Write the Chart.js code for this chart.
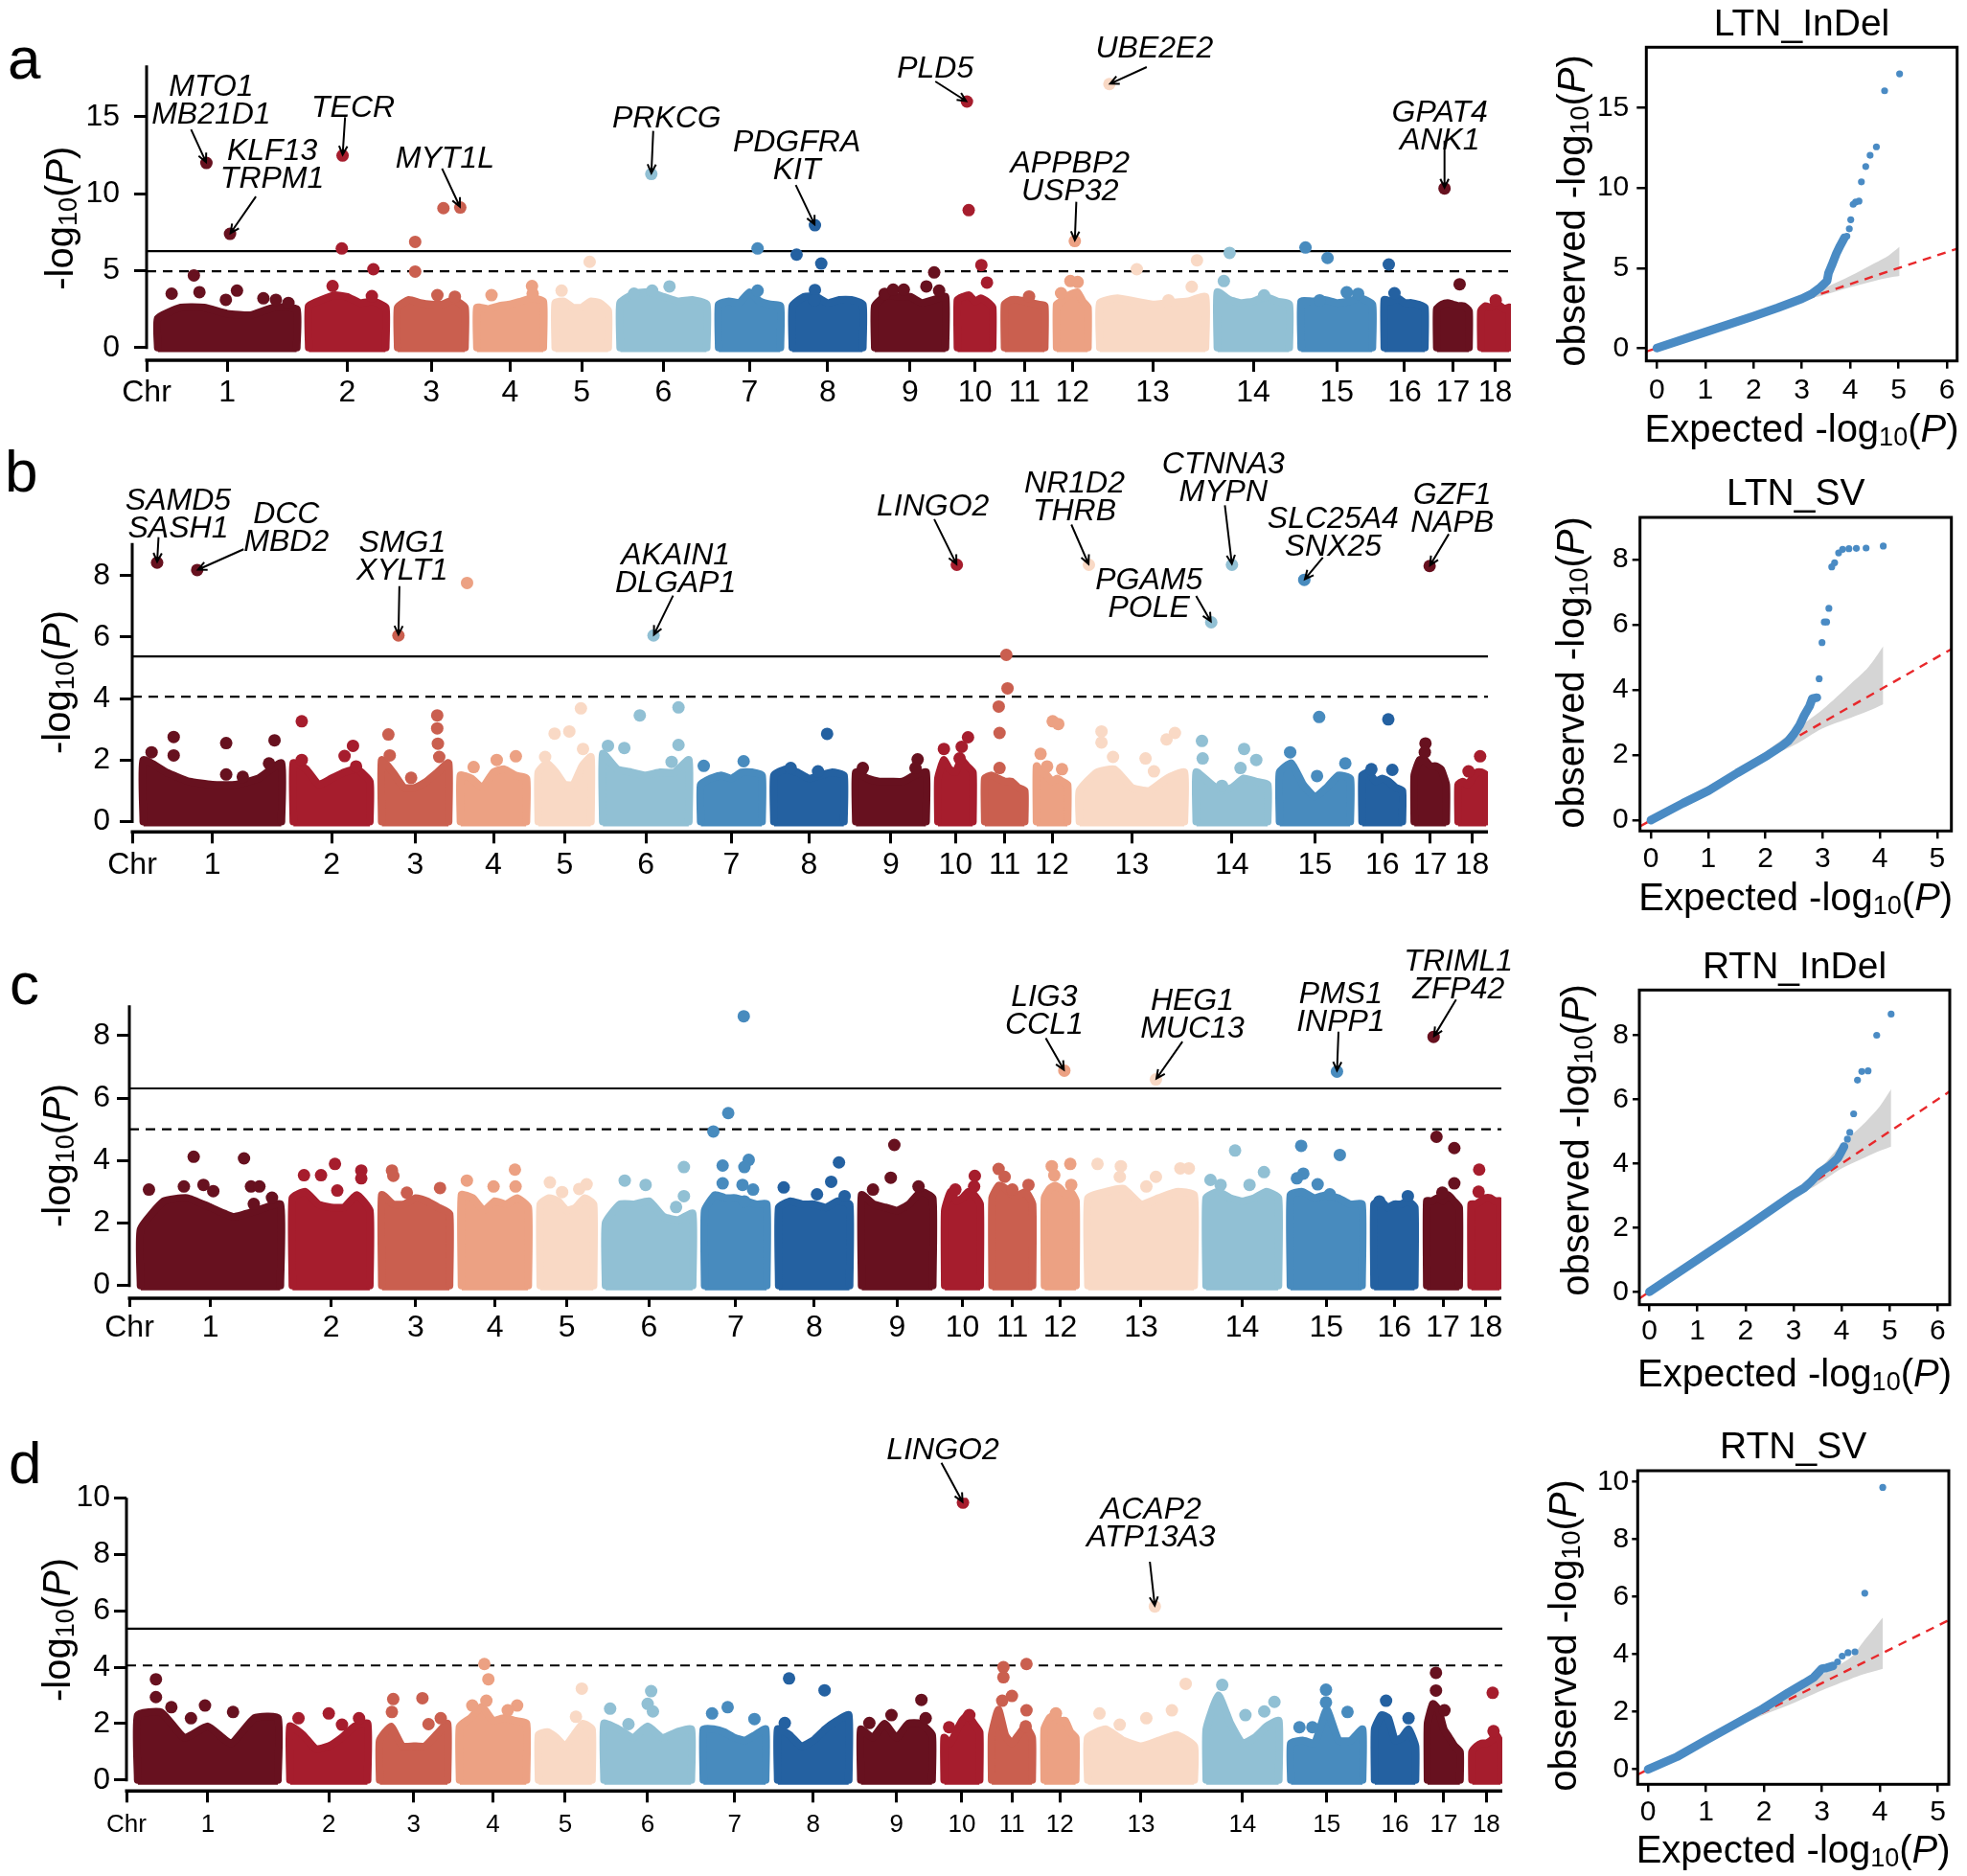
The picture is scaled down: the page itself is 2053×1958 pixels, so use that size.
<!DOCTYPE html>
<html>
<head>
<meta charset="utf-8">
<script src="https://cdn.jsdelivr.net/npm/chart.js@4.4.1/dist/chart.umd.min.js"></script>
<style>
  html, body { margin: 0; padding: 0; background: #fff; }
  body { width: 2053px; height: 1958px; position: relative; overflow: hidden; }
  canvas { position: absolute; }
</style>
</head>
<body>
<canvas id="ma"></canvas><canvas id="mb"></canvas><canvas id="mc"></canvas><canvas id="md"></canvas>
<canvas id="qa"></canvas><canvas id="qb"></canvas><canvas id="qc"></canvas><canvas id="qd"></canvas>
<script>
// ---- chromosomes (pig autosomes, Mb) ----
const chrNames = ['1','2','3','4','5','6','7','8','9','10','11','12','13','14','15','16','17','18'];
const chrLengthMb = [274.3, 151.9, 132.8, 130.9, 104.5, 170.8, 121.8, 139.0, 139.5, 69.4, 79.2, 61.6, 208.3, 141.8, 140.4, 79.9, 63.5, 56.0];

// ---- a: LTN_InDel ----
const aThresholds = [6.26, 4.96];
const aYTicks = [0, 5, 10, 15];
const aCloud = [
  [1.9,2.6,2.6,2.2,2.1,2.6,2.5],[2.7,3.1,3.4,3.3,2.9,3.0,2.6],[2.6,3.1,2.9,2.8,2.8,3.1,2.6],
  [2.6,2.5,2.7,2.8,3.0,3.2,3.0],[2.9,3.0,2.6,2.6,3.0,2.9,2.4],[2.9,3.5,3.6,3.3,3.0,3.1,2.8],
  [2.8,3.0,2.9,3.6,3.0,2.8,2.7],[2.7,3.3,3.3,2.9,3.1,3.1,2.8],[2.7,3.4,3.3,3.3,2.9,3.1,3.3],
  [3.1,3.3,3.4,3.0,3.2,3.0,2.6],[2.8,3.1,3.1,3.0,2.9,2.8,2.7],[2.8,3.0,3.3,3.5,3.6,3.0,2.6],
  [2.9,3.2,3.0,2.8,2.9,3.0,3.3],[3.6,3.1,2.9,3.0,3.3,3.0,2.8],[3.0,3.0,3.1,2.9,3.0,3.2,2.8],
  [3.1,3.0,3.2,2.9,2.9,2.8,2.6],[2.5,2.8,2.9,2.8,2.7,2.7,2.4],[2.4,2.7,2.6,2.8,2.7,2.5,2.6]
];
const aHits = [
  [1,0.26,4.69],[1,0.30,3.6],[1,0.49,3.1],[1,0.57,3.7],[1,0.10,3.5],[1,0.76,3.2],[1,0.85,3.1],[1,0.94,2.9],
  [2,0.43,6.44],[2,0.84,5.09],[2,0.31,4.0],[2,0.82,3.34],
  [3,0.26,6.87],[3,0.26,4.94],[3,0.68,9.06],[3,0.59,3.4],[3,0.85,3.3],
  [4,0.22,3.4],[4,0.83,4.0],[4,0.84,3.5],
  [5,0.65,5.57],[5,0.12,3.7],
  [6,0.57,3.97],[6,0.37,3.7],[6,0.16,3.5],
  [7,0.63,6.44],[7,0.63,3.7],
  [8,0.06,6.04],[8,0.41,5.46],[8,0.32,3.74],[8,0.31,3.07],
  [9,0.84,4.88],[9,0.73,3.97],[9,0.91,3.7],[9,0.14,3.49],[9,0.26,3.76],[9,0.41,3.76],
  [10,0.32,8.93],[10,0.68,5.36],[10,0.84,4.22],
  [11,0.61,3.32],
  [12,0.44,4.32],[12,0.67,4.26],[12,0.14,3.53],
  [13,0.35,5.09],[13,0.92,5.67],[13,0.87,3.95],[13,0.65,3.07],
  [14,0.17,6.15],[14,0.09,4.32],[14,0.65,3.39],
  [15,0.06,6.5],[15,0.37,5.82],[15,0.64,3.59],[15,0.80,3.49],[15,0.26,3.07],
  [16,0.11,5.40],[16,0.25,3.53],
  [17,0.71,4.11],
  [18,0.52,3.07]
];
const aLeads = [[1,0.35,12.0],[1,0.52,7.39],[2,0.44,12.48],[3,0.93,9.10],[6,0.36,11.28],[8,0.32,7.95],[10,0.27,15.99],[13,0.09,17.13],[12,0.58,6.92],[17,0.24,10.34]];
const aGenes = [['MTO1','MB21D1'],['KLF13','TRPM1'],['TECR'],['MYT1L'],['PRKCG'],['PDGFRA','KIT'],['PLD5'],['UBE2E2'],['APPBP2','USP32'],['GPAT4','ANK1']];

// ---- b: LTN_SV ----
const bThresholds = [5.37, 4.06];
const bYTicks = [0, 2, 4, 6, 8];
const bCloud = [
  [2.0,1.6,1.3,1.2,1.2,1.4,1.9],[1.9,1.7,1.2,1.4,1.6,1.7,1.3],[2.0,1.6,1.1,1.1,1.3,1.6,1.9],
  [1.5,1.4,1.1,1.6,1.7,1.5,1.4],[1.6,1.9,1.6,1.2,1.2,1.8,2.1],[2.2,1.7,1.6,1.5,1.6,1.6,2.0],
  [1.2,1.4,1.5,1.4,1.6,1.6,1.5],[1.5,1.7,1.6,1.4,1.5,1.6,1.5],[1.6,1.4,1.3,1.3,1.3,1.5,1.6],
  [1.4,2.0,1.7,1.6,2.0,1.8,1.6],[1.4,1.5,1.4,1.3,1.3,1.1,1.0],[1.8,1.6,1.5,1.3,1.4,1.3,1.2],
  [1.0,1.6,1.7,1.1,1.0,1.4,1.6],[1.6,1.3,1.0,1.1,1.4,1.3,1.2],[1.6,1.9,1.2,0.8,1.1,1.5,1.4],
  [1.5,1.6,1.3,1.4,1.3,1.1,1.0],[1.5,2.0,2.0,1.8,1.8,1.7,1.2],[1.2,1.3,1.2,1.4,1.6,1.6,1.5]
];
const bHits = [
  [1,0.22,2.75],[1,0.60,2.55],[1,0.95,2.64],[1,0.06,2.25],[1,0.22,2.15],[1,0.60,1.53],[1,0.72,1.45],[1,0.91,1.89],
  [2,0.11,3.26],[2,0.11,2.0],[2,0.78,2.46],[2,0.67,2.13],[2,0.82,1.79],
  [3,0.10,2.83],[3,0.12,2.15],[3,0.83,3.45],[3,0.83,3.03],[3,0.84,2.53],[3,0.86,2.1],[3,0.44,1.42],
  [4,0.10,7.76],[4,0.84,2.12],[4,0.55,2.0],[4,0.20,1.77],
  [5,0.81,3.68],[5,0.31,2.86],[5,0.59,2.93],[5,0.13,2.1],[5,0.85,2.36],
  [6,0.43,3.45],[6,0.88,3.71],[6,0.06,2.46],[6,0.25,2.39],[6,0.88,2.49],[6,0.80,1.94],
  [7,0.05,1.81],[7,0.70,1.96],
  [8,0.76,2.85],[8,0.24,1.74],[8,0.63,1.63],
  [9,0.88,2.02],[9,0.85,1.74],[9,0.10,1.74],
  [10,0.86,2.74],[10,0.68,2.43],[10,0.17,2.36],[10,0.62,2.05],
  [11,0.54,5.42],[11,0.57,4.33],[11,0.35,3.74],[11,0.37,2.88],[11,0.37,1.74],
  [12,0.52,3.26],[12,0.70,3.17],[12,0.13,2.2],[12,0.34,1.79],[12,0.82,1.7],
  [13,0.21,2.93],[13,0.21,2.57],[13,0.91,2.88],[13,0.83,2.67],[13,0.63,2.05],[13,0.32,2.1],[13,0.71,1.63],
  [14,0.08,2.62],[14,0.09,2.05],[14,0.67,2.36],[14,0.62,1.74],[14,0.84,2.0],[14,0.36,1.16],
  [15,0.56,3.4],[15,0.15,2.25],[15,0.93,1.89],[15,0.53,1.48],
  [16,0.65,3.32],[16,0.75,1.68],[16,0.23,1.7],
  [17,0.35,2.54],[17,0.33,2.25],
  [18,0.78,2.12],[18,0.37,1.63]
];
const bLeads = [[1,0.10,8.42],[1,0.39,8.18],[3,0.25,6.05],[6,0.59,6.05],[10,0.54,8.35],[13,0.09,8.35],[14,0.50,8.35],[14,0.21,6.48],[15,0.35,7.86],[17,0.48,8.31]];
const bGenes = [['SAMD5','SASH1'],['DCC','MBD2'],['SMG1','XYLT1'],['AKAIN1','DLGAP1'],['LINGO2'],['NR1D2','THRB'],['CTNNA3','MYPN'],['PGAM5','POLE'],['SLC25A4','SNX25'],['GZF1','NAPB']];

// ---- c: RTN_InDel ----
const cThresholds = [6.31, 5.0];
const cYTicks = [0, 2, 4, 6, 8];
const cCloud = [
  [1.8,2.7,2.8,2.5,2.2,2.4,2.6],[2.8,3.0,2.6,2.5,2.5,2.9,2.4],[2.9,2.6,2.6,2.8,2.7,2.5,2.3],
  [2.9,2.8,2.4,2.7,2.6,2.8,2.5],[2.6,2.8,2.7,2.4,2.5,2.8,2.6],[2.0,2.6,2.6,2.7,2.2,2.1,2.3],
  [2.4,2.9,2.8,2.8,2.7,2.6,2.6],[2.5,2.7,2.6,2.6,2.5,2.7,2.6],[2.9,2.6,2.5,2.4,2.6,3.0,2.8],
  [2.4,3.0,2.7,2.8,3.0,2.9,2.6],[2.8,3.2,3.1,2.9,2.9,3.0,2.6],[2.8,3.1,3.2,3.1,2.9,3.0,2.7],
  [2.8,3.0,3.1,2.6,2.8,3.0,2.9],[2.8,3.0,2.8,2.7,2.8,3.0,2.8],[2.9,3.0,2.8,2.9,2.8,2.6,2.6],
  [2.6,2.7,2.5,2.6,2.6,2.7,2.5],[2.7,2.7,2.8,2.7,2.9,2.7,2.5],[2.6,2.6,2.7,2.8,2.8,2.7,2.7]
];
const cHits = [
  [1,0.38,4.12],[1,0.74,4.07],[1,0.06,3.07],[1,0.45,3.22],[1,0.31,3.17],[1,0.52,3.02],[1,0.79,3.17],[1,0.85,3.17],[1,0.81,2.61],[1,0.94,2.81],
  [2,0.55,3.89],[2,0.37,3.53],[2,0.15,3.53],[2,0.89,3.68],[2,0.89,3.43],[2,0.58,3.04],
  [3,0.15,3.68],[3,0.17,3.51],[3,0.86,3.12],[3,0.37,2.97],
  [4,0.80,3.71],[4,0.81,3.17],[4,0.08,3.36],[4,0.48,3.17],
  [5,0.18,3.3],[5,0.41,2.99],[5,0.87,3.24],[5,0.73,3.09],
  [6,0.90,3.79],[6,0.22,3.36],[6,0.46,3.22],[6,0.90,2.86],[6,0.81,2.51],
  [7,0.63,8.62],[7,0.38,5.52],[7,0.14,4.93],[7,0.71,4.02],[7,0.29,3.84],[7,0.64,3.79],[7,0.29,3.27],[7,0.61,3.22],[7,0.78,3.07],[7,0.64,2.69],
  [8,0.85,3.94],[8,0.74,3.32],[8,0.07,3.14],[8,0.54,2.92],[8,0.93,2.86],
  [9,0.46,4.5],[9,0.41,3.45],[9,0.16,3.07],[9,0.80,3.17],
  [10,0.85,3.51],[10,0.83,3.17],[10,0.30,3.07],
  [11,0.16,3.73],[11,0.31,3.48],[11,0.9,3.22],[11,0.5,3.07],
  [12,0.82,3.89],[12,0.23,3.82],[12,0.31,3.53],[12,0.85,3.22],
  [13,0.09,3.89],[13,0.31,3.82],[13,0.87,3.75],[13,0.95,3.75],[13,0.64,3.48],[13,0.55,3.17],[13,0.30,3.48],
  [14,0.40,4.32],[14,0.06,3.38],[14,0.80,3.63],[14,0.60,3.22],[14,0.20,3.22],
  [15,0.15,4.47],[15,0.69,4.18],[15,0.18,3.58],[15,0.09,3.43],[15,0.38,3.24],[15,0.55,2.92],
  [16,0.83,2.86],[16,0.13,2.69],
  [17,0.30,4.76],[17,0.85,4.40],[17,0.85,3.27],[17,0.48,2.97],
  [18,0.28,3.71],[18,0.26,3.0]
];
const cLeads = [[12,0.63,6.88],[13,0.64,6.60],[15,0.65,6.85],[17,0.21,7.96]];
const cGenes = [['LIG3','CCL1'],['HEG1','MUC13'],['PMS1','INPP1'],['TRIML1','ZFP42']];

// ---- d: RTN_SV ----
const dThresholds = [5.36, 4.06];
const dYTicks = [0, 2, 4, 6, 8, 10];
const dCloud = [
  [2.3,2.4,1.5,1.9,1.3,2.2,2.2],[1.9,1.6,1.1,1.2,1.5,1.9,2.0],[1.4,1.9,1.2,1.2,1.2,1.6,2.0],
  [1.9,2.2,2.6,2.1,2.2,2.1,2.0],[1.6,1.7,1.5,1.2,1.6,2.0,1.8],[2.0,1.8,1.5,1.9,1.5,1.7,1.8],
  [1.8,1.8,1.7,1.5,1.4,1.6,1.8],[1.8,1.6,1.2,1.4,1.8,2.1,2.3],[1.8,1.5,2.0,1.5,2.0,2.0,1.6],
  [1.5,1.3,1.7,2.1,2.3,2.0,1.7],[1.6,2.5,1.6,1.3,1.6,1.9,1.5],[1.8,2.2,2.3,2.1,2.1,1.7,1.5],
  [1.5,1.8,1.4,1.2,1.4,1.6,1.2],[1.8,3.0,2.0,1.3,1.5,1.9,2.1],[1.3,1.4,1.3,2.5,1.4,1.4,1.8],
  [1.8,2.3,2.2,1.4,1.5,1.8,1.2],[2.0,2.7,2.5,1.8,1.5,1.2,1.0],[1.0,1.2,1.3,1.3,1.4,1.6,1.3]
];
const dHits = [
  [1,0.13,3.57],[1,0.13,2.94],[1,0.48,2.64],[1,0.68,2.41],[1,0.24,2.58],[1,0.38,2.19],
  [2,0.5,2.36],[2,0.89,2.19],[2,0.67,1.96],[2,0.11,2.19],
  [3,0.20,2.87],[3,0.63,2.9],[3,0.18,2.41],[3,0.90,2.19],[3,0.72,1.98],
  [4,0.37,4.11],[4,0.43,3.57],[4,0.40,2.81],[4,0.19,2.64],[4,0.86,2.64],[4,0.72,2.47],
  [5,0.81,3.24],[5,0.70,2.24],
  [6,0.54,3.15],[6,0.50,2.7],[6,0.07,2.53],[6,0.28,1.98],[6,0.56,2.43],
  [7,0.39,2.58],[7,0.14,2.36],[7,0.82,2.16],
  [8,0.16,3.6],[8,0.66,3.18],[8,0.10,2.02],
  [9,0.85,2.84],[9,0.43,2.3],[9,0.12,2.02],[9,0.91,2.19],
  [10,0.71,2.3],[10,0.14,1.87],
  [11,0.29,4.0],[11,0.29,3.64],[11,0.86,4.11],[11,0.5,2.98],[11,0.26,2.81],[11,0.86,2.47],[11,0.84,1.9],
  [12,0.37,2.36],
  [13,0.92,3.41],[13,0.79,2.47],[13,0.55,2.19],[13,0.11,2.36],[13,0.30,1.96],
  [14,0.22,3.37],[14,0.94,2.77],[14,0.54,2.3],[14,0.80,2.43],
  [15,0.49,3.2],[15,0.49,2.75],[15,0.79,2.41],[15,0.30,1.87],[15,0.12,1.87],
  [16,0.28,2.81],[16,0.83,2.19],
  [17,0.26,3.8],[17,0.26,3.17],[17,0.52,2.47],
  [18,0.72,3.09],[18,0.75,1.73]
];
const dLeads = [[10,0.53,9.83],[13,0.63,6.15]];
const dGenes = [['LINGO2'],['ACAP2','ATP13A3']];

// ---- QQ plots: [expected, observed]; band: [expected, lower, upper] ----
const qqTitles = ['LTN_InDel', 'LTN_SV', 'RTN_InDel', 'RTN_SV'];
const qqaBody = [[0,0],[1,1.0],[2,2.0],[2.5,2.52],[3,3.09],[3.2,3.38],[3.38,3.79],[3.52,4.19],[3.55,4.69],[3.62,5.19],[3.71,5.89],[3.79,6.39],[3.88,6.89]];
const qqaTail = [[3.93,6.99],[3.98,7.45],[4.01,8.02],[4.06,8.98],[4.11,9.12],[4.18,9.18],[4.23,10.38],[4.32,11.34],[4.41,12.04],[4.54,12.57],[4.71,16.07],[5.02,17.13]];
const qqaBand = [[0,0,0],[2.8,2.78,2.84],[3.0,2.95,3.1],[3.5,3.35,3.8],[4.0,3.8,4.5],[4.5,4.2,5.3],[4.8,4.4,5.8],[5.02,4.5,6.33]];
const qqaXTicks = [0,1,2,3,4,5,6], qqaYTicks = [0,5,10,15];

const qqbBody = [[0,0],[0.56,0.52],[1.01,0.91],[1.51,1.45],[2.04,1.99],[2.29,2.28],[2.4,2.43],[2.5,2.65],[2.6,2.92],[2.68,3.22],[2.77,3.49],[2.82,3.73],[2.90,3.76]];
const qqbTail = [[2.94,4.34],[2.99,5.45],[3.03,6.08],[3.07,6.08],[3.11,6.50],[3.16,7.77],[3.21,7.90],[3.28,8.20],[3.35,8.31],[3.46,8.33],[3.59,8.34],[3.76,8.35],[4.06,8.41]];
const qqbBand = [[0.7,0.7,0.7],[1,0.97,1.03],[1.5,1.44,1.56],[2,1.9,2.1],[2.5,2.3,2.75],[3,2.82,3.4],[3.5,3.15,4.2],[3.8,3.35,4.7],[4.06,3.56,5.34]];
const qqbXTicks = [0,1,2,3,4,5], qqbYTicks = [0,2,4,6,8];

const qqcBody = [[0,0],[1,1.0],[2,2.0],[3,3.04],[3.22,3.24],[3.36,3.43],[3.55,3.73],[3.75,3.93],[3.92,4.17],[3.99,4.36],[4.05,4.53]];
const qqcTail = [[4.12,4.76],[4.17,4.97],[4.25,5.55],[4.33,6.60],[4.42,6.87],[4.55,6.89],[4.73,8.0],[5.03,8.66]];
const qqcBand = [[3.0,2.98,3.05],[3.2,3.1,3.3],[3.5,3.35,3.75],[4,3.85,4.6],[4.5,4.2,5.3],[4.8,4.4,5.8],[5.03,4.53,6.32]];
const qqcXTicks = [0,1,2,3,4,5,6], qqcYTicks = [0,2,4,6,8];

const qqdBody = [[0,0],[0.5,0.44],[0.99,1.0],[1.49,1.56],[1.98,2.11],[2.42,2.67],[2.7,3.0],[2.86,3.2],[3.0,3.5],[3.08,3.53],[3.19,3.6]];
const qqdTail = [[3.27,3.74],[3.35,3.94],[3.45,4.06],[3.57,4.09],[3.74,6.13],[4.05,9.81]];
const qqdBand = [[1.3,1.28,1.32],[2,1.9,2.1],[2.5,2.3,2.7],[3,2.75,3.3],[3.5,3.15,3.9],[3.7,3.3,4.4],[4.05,3.5,5.28]];
const qqdXTicks = [0,1,2,3,4,5], qqdYTicks = [0,2,4,6,8,10];

// ---- drawing ----
const FONT = '"Liberation Sans", Arial, Helvetica, sans-serif';
const chrColors = ['#67111f', '#a61d2d', '#ca5f4f', '#eca183', '#f9d9c5', '#91c0d4', '#488bbe', '#2461a1'];
const QQ_BLUE = '#4a8bc4';
const CHR_GAP = 23.6, X_MIN = -22, X_MAX = 2670;

Chart.defaults.font.family = FONT;
Chart.defaults.color = '#000';

const chrStart = [];
let acc = 0;
chrLengthMb.forEach(len => { chrStart.push(acc); acc += len + CHR_GAP; });
const chrMid = chrLengthMb.map((len, i) => chrStart[i] + len / 2);
const posOf = (chr, frac) => chrStart[chr - 1] + frac * chrLengthMb[chr - 1];
const colorOf = chr => chrColors[(chr - 1) % 8];

function place(cv, box) {
  cv.style.left = box[0] + 'px';
  cv.style.top = box[1] + 'px';
  cv.width = box[2];
  cv.height = box[3];
}

function drawRich(ctx, parts, x, y, rot) {
  ctx.save();
  ctx.translate(x, y);
  if (rot) ctx.rotate(rot);
  ctx.fillStyle = '#000';
  ctx.textAlign = 'left';
  ctx.textBaseline = 'alphabetic';
  let w = 0;
  parts.forEach(p => { ctx.font = p.f; w += ctx.measureText(p.t).width; });
  let cx = -w / 2;
  parts.forEach(p => {
    ctx.font = p.f;
    ctx.fillText(p.t, cx, p.dy || 0);
    cx += ctx.measureText(p.t).width;
  });
  ctx.restore();
}

function logParts(prefix, size) {
  const reg = size + 'px ' + FONT;
  return [
    {t: prefix + '-log', f: reg},
    {t: '10', f: Math.round(size * 0.68) + 'px ' + FONT, dy: size * 0.1},
    {t: '(', f: reg},
    {t: 'P', f: 'italic ' + size + 'px ' + FONT},
    {t: ')', f: reg}
  ];
}

function arrow(ctx, x1, y1, x2, y2) {
  const ang = Math.atan2(y2 - y1, x2 - x1), L = 10, A = Math.PI / 7;
  ctx.beginPath();
  ctx.moveTo(x1, y1); ctx.lineTo(x2, y2);
  ctx.moveTo(x2 - L * Math.cos(ang - A), y2 - L * Math.sin(ang - A));
  ctx.lineTo(x2, y2);
  ctx.lineTo(x2 - L * Math.cos(ang + A), y2 - L * Math.sin(ang + A));
  ctx.stroke();
}

function manhattan(id, P) {
  const cv = document.getElementById(id);
  place(cv, P.box);
  const pts = P.hits.concat(P.leads);
  const datasets = [{
    type: 'scatter',
    data: pts.map(h => ({x: posOf(h[0], h[1]), y: h[2]})),
    backgroundColor: pts.map(h => colorOf(h[0])),
    pointRadius: 6.5, pointBorderWidth: 0, order: 0
  }];
  P.cloud.forEach((prof, i) => {
    const start = chrStart[i], len = chrLengthMb[i], n = prof.length - 1;
    const line = [{x: start, y: 0}]
      .concat(prof.map((h, k) => ({x: start + len * k / n, y: h})))
      .concat([{x: start + len, y: 0}]);
    datasets.push({
      type: 'line', data: line,
      borderColor: colorOf(i + 1), backgroundColor: colorOf(i + 1),
      borderWidth: 8, borderJoinStyle: 'round', borderCapStyle: 'round',
      pointRadius: 0, tension: 0.15, fill: {value: -P.base}, order: 1
    });
  });

  new Chart(cv, {
    type: 'scatter',
    data: {datasets},
    options: {
      responsive: false, animation: false, devicePixelRatio: 1, events: [],
      layout: {autoPadding: false, padding: {left: 0, top: P.padTop, right: P.padRight, bottom: 0}},
      plugins: {legend: {display: false}, tooltip: {enabled: false}},
      scales: {
        x: {
          type: 'linear', min: X_MIN, max: X_MAX,
          afterBuildTicks: s => { s.ticks = [X_MIN].concat(chrMid).map(v => ({value: v})); },
          afterFit: s => { s.height = P.xAxisH; },
          ticks: {
            autoSkip: false, maxRotation: 0, minRotation: 0, color: '#000',
            font: {size: P.xFont}, padding: P.xPad,
            callback: (v, i) => i === 0 ? 'Chr' : chrNames[i - 1]
          },
          grid: {drawOnChartArea: false, tickLength: P.xTick, lineWidth: 3, color: '#000'},
          border: {display: false}
        },
        y: {
          min: P.yMin, max: P.yMax,
          afterBuildTicks: s => { s.ticks = P.yTicks.map(v => ({value: v})); },
          afterFit: s => { s.width = P.yAxisW; },
          ticks: {color: '#000', font: {size: 32}, padding: P.yPad},
          grid: {drawOnChartArea: false, tickLength: 13, lineWidth: 3, color: '#000'},
          border: {display: false}
        }
      }
    },
    plugins: [{
      id: 'decor',
      beforeDatasetsDraw(chart) {
        const {ctx, chartArea: ca, scales: {y}} = chart;
        ctx.save();
        ctx.strokeStyle = '#000';
        ctx.lineWidth = 2.2;
        P.thresholds.forEach((t, i) => {
          const py = y.getPixelForValue(t);
          ctx.setLineDash(i === 0 ? [] : [10, 7]);
          ctx.beginPath(); ctx.moveTo(ca.left, py); ctx.lineTo(ca.right, py); ctx.stroke();
        });
        ctx.restore();
      },
      afterDraw(chart) {
        const {ctx, chartArea: ca, scales: {x, y}} = chart;
        ctx.save();
        ctx.strokeStyle = '#000';
        ctx.lineWidth = 3;
        ctx.beginPath(); ctx.moveTo(ca.left, y.getPixelForValue(0) + 1.5); ctx.lineTo(ca.left, ca.top); ctx.stroke();
        ctx.lineWidth = 3.5;
        ctx.beginPath(); ctx.moveTo(ca.left - 1.5, ca.bottom); ctx.lineTo(ca.right, ca.bottom); ctx.stroke();

        ctx.fillStyle = '#000';
        ctx.font = '62px ' + FONT;
        ctx.textAlign = 'left';
        ctx.textBaseline = 'alphabetic';
        ctx.fillText(P.letter[0], P.letter[1], P.letter[2]);
        drawRich(ctx, logParts('', 40), P.yTitle[0], P.yTitle[1], -Math.PI / 2);

        ctx.font = 'italic 32px ' + FONT;
        ctx.textAlign = 'center';
        ctx.lineWidth = 2;
        P.leads.forEach((h, i) => {
          const px = x.getPixelForValue(posOf(h[0], h[1])), py = y.getPixelForValue(h[2]);
          const [dx, dy, ax, ay] = P.labelLayout[i];
          const lines = P.genes[i];
          lines.forEach((t, j) => ctx.fillText(t, px + dx, py + dy - (lines.length - 1 - j) * 29));
          const sx = px + ax, sy = py + ay, d = Math.hypot(px - sx, py - sy);
          arrow(ctx, sx, sy, px - (px - sx) / d, py - (py - sy) / d);
        });
        ctx.restore();
      }
    }]
  });
}

function qq(id, Q) {
  const cv = document.getElementById(id);
  place(cv, Q.box);
  const xy = a => a.map(p => ({x: p[0], y: p[1]}));
  const clear = 'rgba(0,0,0,0)';
  new Chart(cv, {
    type: 'scatter',
    data: {datasets: [
      {type: 'scatter', data: xy(Q.tail), backgroundColor: QQ_BLUE, pointRadius: 3.6, pointBorderWidth: 0, order: 0},
      {type: 'line', data: xy(Q.body), borderColor: QQ_BLUE, borderWidth: 9, borderCapStyle: 'round', borderJoinStyle: 'round', pointRadius: 0, fill: false, order: 1},
      {type: 'line', data: [{x: Q.xr[0], y: Q.xr[0]}, {x: Q.xr[1], y: Q.xr[1]}], borderColor: '#e8282b', borderWidth: 2.4, borderDash: [9, 7], pointRadius: 0, fill: false, order: 2},
      {type: 'line', data: Q.band.map(b => ({x: b[0], y: b[2]})), borderColor: clear, borderWidth: 1, pointRadius: 0, backgroundColor: '#d5d5d5', fill: '+1', tension: 0.3, order: 3},
      {type: 'line', data: Q.band.map(b => ({x: b[0], y: b[1]})), borderColor: clear, borderWidth: 1, pointRadius: 0, fill: false, tension: 0.3, order: 4}
    ]},
    options: {
      responsive: false, animation: false, devicePixelRatio: 1, events: [],
      layout: {autoPadding: false, padding: {left: 0, top: Q.padTop, right: Q.padRight, bottom: 0}},
      plugins: {legend: {display: false}, tooltip: {enabled: false}},
      scales: {
        x: {
          type: 'linear', min: Q.xr[0], max: Q.xr[1],
          afterBuildTicks: s => { s.ticks = Q.xTicks.map(v => ({value: v})); },
          afterFit: s => { s.height = Q.xAxisH; },
          ticks: {autoSkip: false, maxRotation: 0, color: '#000', font: {size: 30}, padding: Q.xPad},
          grid: {drawOnChartArea: false, tickLength: Q.xTickL, lineWidth: 2.5, color: '#000'},
          border: {display: false}
        },
        y: {
          min: Q.yr[0], max: Q.yr[1],
          afterBuildTicks: s => { s.ticks = Q.yTicks.map(v => ({value: v})); },
          afterFit: s => { s.width = Q.yAxisW; },
          ticks: {color: '#000', font: {size: 30}, padding: Q.yPad},
          grid: {drawOnChartArea: false, tickLength: Q.yTickL, lineWidth: 2.5, color: '#000'},
          border: {display: false}
        }
      }
    },
    plugins: [{
      id: 'frame',
      afterDraw(chart) {
        const {ctx, chartArea: ca} = chart;
        ctx.save();
        ctx.strokeStyle = '#000';
        ctx.lineWidth = 3;
        ctx.strokeRect(ca.left, ca.top, ca.right - ca.left, ca.bottom - ca.top);
        ctx.fillStyle = '#000';
        ctx.font = '39px ' + FONT;
        ctx.textAlign = 'center';
        ctx.textBaseline = 'alphabetic';
        const cx = (ca.left + ca.right) / 2;
        ctx.fillText(Q.title, cx, Q.titleY);
        drawRich(ctx, logParts('Expected ', 40), cx, Q.xTitleY, 0);
        drawRich(ctx, logParts('observed ', 40), Q.yTitle[0], Q.yTitle[1], -Math.PI / 2);
        ctx.restore();
      }
    }]
  });
}

manhattan('ma', {
  box: [0, 0, 1600, 465], padTop: 68.3, padRight: 23, yAxisW: 153, xAxisH: 89,
  yMin: -0.83, yMax: 18.34, yTicks: aYTicks, yPad: 15, xPad: 3, xTick: 12, xFont: 32,
  thresholds: aThresholds, base: 0.3, cloud: aCloud, hits: aHits, leads: aLeads, genes: aGenes,
  letter: ['a', 8, 81.7], yTitle: [75.6, 227.7],
  labelLayout: [[5,-40.7,-16,-35],[44,-48,27,-39],[11,-40.6,2.6,-40],[-16,-41.7,-19,-40.7],[16,-49,2,-45],
                [-19,-48,-20,-42],[-33,-25,-33,-21],[47,-27.7,39,-17.7],[-5,-42.4,1.6,-41],[-5,-41,0,-50]]
});
manhattan('mb', {
  box: [0, 465, 1600, 475], padTop: 101.7, padRight: 47, yAxisW: 138, xAxisH: 71.7,
  yMin: -0.34, yMax: 9.06, yTicks: bYTicks, yPad: 10, xPad: 4, xTick: 12, xFont: 32,
  thresholds: bThresholds, base: 0.16, cloud: bCloud, hits: bHits, leads: bLeads, genes: bGenes,
  letter: ['b', 5, 48], yTitle: [73, 247],
  labelLayout: [[22,-26.6,1.5,-26.6],[93,-20,48.5,-21.7],[4,-58.3,1,-51.6],[23,-45,20.4,-41.6],[-25,-51,-23.6,-47.6],
                [-15,-46.6,-18.3,-42],[-9,-66,-7.4,-62],[-65,-5.3,-15.8,-27.6],[30,-25.7,19.4,-23.3],[23.6,-35.7,20,-33.4]]
});
manhattan('mc', {
  box: [0, 960, 1600, 460], padTop: 89.3, padRight: 33, yAxisW: 135, xAxisH: 65,
  yMin: -0.41, yMax: 8.97, yTicks: cYTicks, yPad: 7, xPad: 3, xTick: 9, xFont: 32,
  thresholds: cThresholds, base: 0.16, cloud: cCloud, hits: cHits, leads: cLeads, genes: cGenes,
  letter: ['c', 10, 88.3], yTitle: [73, 246],
  labelLayout: [[-21,-38,-19.4,-34],[38,-43.4,27.7,-39.4],[4,-42.3,1.6,-41.6],[26,-40.6,23.5,-39]]
});
manhattan('md', {
  box: [0, 1470, 1600, 488], padTop: 93.3, padRight: 32, yAxisW: 132, xAxisH: 88.7,
  yMin: -0.39, yMax: 10.0, yTicks: dYTicks, yPad: 4, xPad: 8, xTick: 12, xFont: 26,
  thresholds: dThresholds, base: 0.17, cloud: dCloud, hits: dHits, leads: dLeads, genes: dGenes,
  letter: ['d', 9, 78.3], yTitle: [73, 231],
  labelLayout: [[-21,-45,-22.5,-41.6],[-4,-62.7,-5.2,-46.7]]
});

qq('qa', {box: [1600, 0, 453, 480], padTop: 49.3, padRight: 10.3, yAxisW: 118.3, xAxisH: 103.3,
  xr: [-0.218, 6.21], yr: [-0.8, 18.79], xTicks: qqaXTicks, yTicks: qqaYTicks,
  body: qqaBody, tail: qqaTail, band: qqaBand, title: qqTitles[0], titleY: 36.7, xTitleY: 461, yTitle: [53.6, 220],
  yTickL: 10, yPad: 8, xTickL: 8, xPad: 5});
qq('qb', {box: [1600, 480, 453, 480], padTop: 60, padRight: 16.3, yAxisW: 111.7, xAxisH: 92.7,
  xr: [-0.19, 5.25], yr: [-0.33, 9.29], xTicks: qqbXTicks, yTicks: qqbYTicks,
  body: qqbBody, tail: qqbTail, band: qqbBand, title: qqTitles[1], titleY: 46.7, xTitleY: 470, yTitle: [53, 222],
  yTickL: 8, yPad: 4, xTickL: 8, xPad: 3});
qq('qc', {box: [1600, 970, 453, 490], padTop: 63.3, padRight: 18, yAxisW: 111, xAxisH: 98.3,
  xr: [-0.21, 6.25], yr: [-0.40, 9.41], xTicks: qqcXTicks, yTicks: qqcYTicks,
  body: qqcBody, tail: qqcTail, band: qqcBand, title: qqTitles[2], titleY: 50.7, xTitleY: 477, yTitle: [58, 220],
  yTickL: 7, yPad: 4, xTickL: 7, xPad: 3});
qq('qd', {box: [1600, 1468, 453, 490], padTop: 67, padRight: 19, yAxisW: 109.3, xAxisH: 95.7,
  xr: [-0.18, 5.19], yr: [-0.52, 10.39], xTicks: qqdXTicks, yTicks: qqdYTicks,
  body: qqdBody, tail: qqdTail, band: qqdBand, title: qqTitles[3], titleY: 53.7, xTitleY: 476, yTitle: [45, 239],
  yTickL: 6, yPad: 3, xTickL: 8, xPad: 3});
</script>
</body>
</html>
